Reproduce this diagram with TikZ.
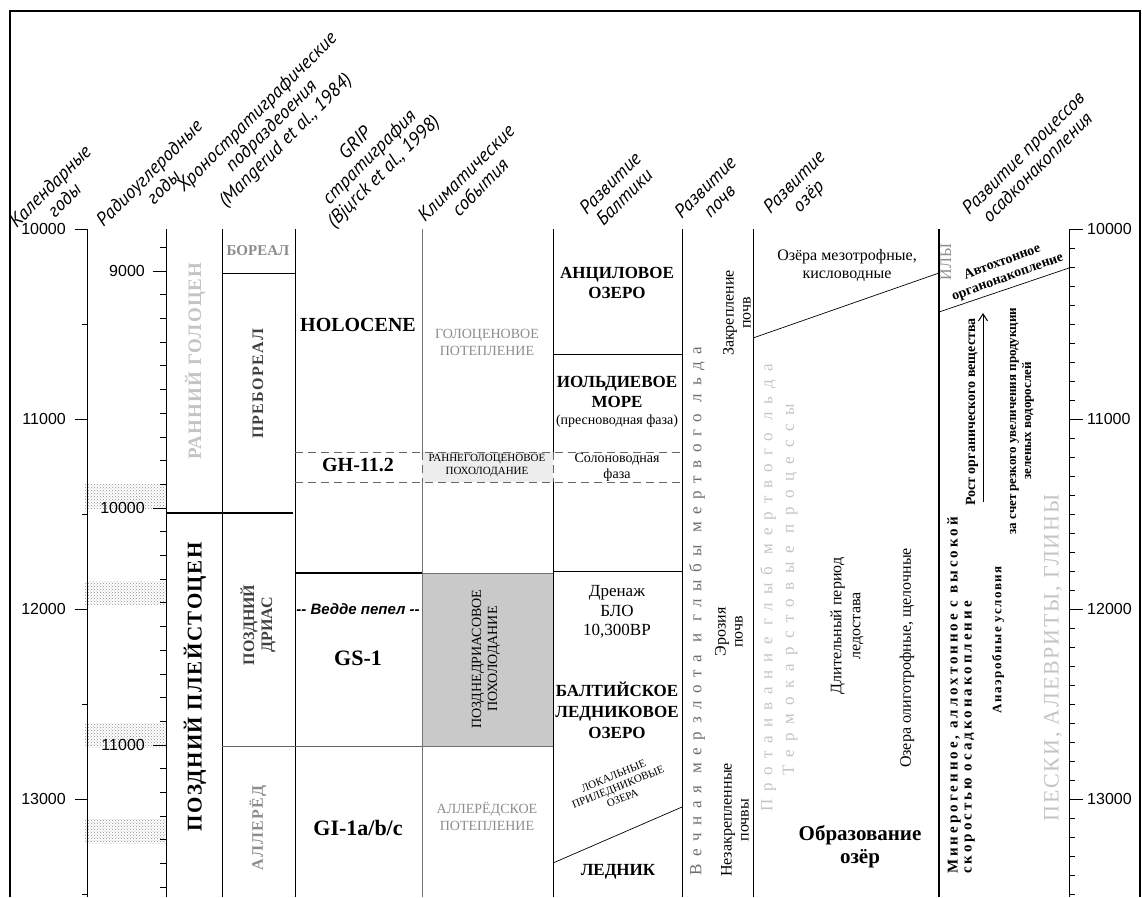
\documentclass[tikz,border=0pt]{standalone}
\usepackage{fontspec}
\setmainfont{Liberation Serif}
\newfontfamily\hdrfont{PT Sans}
\newfontfamily\numfont{Liberation Sans}
\usetikzlibrary{arrows.meta,patterns}
\definecolor{paletxt}{HTML}{C4C4C4}
\definecolor{midtxt}{HTML}{8C8C8C}
\definecolor{darktxt}{HTML}{404040}
\definecolor{permtxt}{HTML}{6E6E6E}
\definecolor{boxgray}{HTML}{C9C9C9}
\definecolor{boxlight}{HTML}{EDEDED}
\newcommand{\fsz}[2]{\fontsize{#1}{#2}\selectfont}
\newcommand{\lsp}[1]{\addfontfeature{LetterSpace=#1}}

\begin{document}
\begin{tikzpicture}[x=1pt, y=-1pt,
    every node/.style={inner sep=1pt},
    hdr/.style={font=\hdrfont\itshape\fsz{19}{20}, rotate=45, align=center},
    axnum/.style={font=\numfont\fsz{16}{18}},
    colline/.style={line width=0.7pt},
    thickline/.style={line width=2.4pt},
    dashline/.style={black!60, line width=0.8pt, dash pattern=on 8pt off 5pt},
    rcband/.style={pattern=crosshatch dots, pattern color=black!45},
    upr/.style={rotate=90, align=center},
    chrono/.style={upr, font=\fsz{16}{18}\bfseries},
    grip/.style={font=\fsz{20}{22}\bfseries},
    clim/.style={font=\fsz{14}{17}, text=midtxt, align=center},
    balt/.style={font=\fsz{17}{20}\bfseries, align=center},
    baltnote/.style={font=\fsz{14}{16}, align=center},
    body/.style={font=\fsz{16}{18}, align=center},
    sed/.style={upr, font=\fsz{14}{16}\bfseries}]

  \useasboundingbox (0,0) rectangle (1142,897);

  % frame
  \draw[line width=2.2pt] (10,897) -- (10,11) -- (1140,11) -- (1140,897);

  % column headers
  \node[hdr] (hcal)  at (57,193)  {Календарные\\годы};
  \node[hdr] (hrad)  at (156,180) {Радиоуглеродные\\годы};
  \node[hdr] (hchr)  at (272,127) {Хроностратиграфические\\подраздеоения\\(Mangerud et al., 1984)};
  \node[hdr] (hgrip) at (370,158) {GRIP\\стратиграфия\\(Bjцrck et al., 1998)};
  \node[hdr] (hclim) at (473,180) {Климатические\\события};
  \node[hdr] (hbalt) at (617,190) {Развитие\\Балтики};
  \node[hdr] (hsoil) at (712,194) {Развитие\\почв};
  \node[hdr] (hlake) at (802,190) {Развитие\\озёр};
  \node[hdr] (hsed)  at (1030,160) {Развитие процессов\\осадконакопления};

  % radiocarbon calibration bands
  \foreach \ya/\yb in {484/508, 581/604, 723/747, 819/843}
    \fill[rcband] (85,\ya) rectangle (166,\yb);

  % calendar axis (left)
  \draw[colline] (75,229) -- (87,229) -- (87,897);
  \foreach \yy in {419,609,799} \draw[colline] (75,\yy) -- (87,\yy);
  \foreach \yy in {324,514,704,894} \draw[colline] (82,\yy) -- (87,\yy);
  \node[axnum, anchor=east] (cal10) at (67,229) {10000};
  \node[axnum, anchor=east] (cal11) at (67,419) {11000};
  \node[axnum, anchor=east] (cal12) at (67,609) {12000};
  \node[axnum, anchor=east] (cal13) at (67,799) {13000};

  % radiocarbon axis
  \draw[colline] (166,229) -- (166,897);
  \foreach \k in {-1,...,26} {
    \pgfmathsetmacro\yy{271+23.7*\k}
    \draw[colline] (160,\yy) -- (166,\yy);
  }
  \foreach \yy in {271,508,745} \draw[colline] (153,\yy) -- (166,\yy);
  \node[axnum, anchor=east] (rc9)  at (146,271) {9000};
  \node[axnum, anchor=east] (rc10) at (146,508) {10000};
  \node[axnum, anchor=east] (rc11) at (146,745) {11000};

  % calendar axis (right)
  \draw[colline] (1083,229) -- (1069,229) -- (1069,897);
  \foreach \k in {1,...,35} {
    \pgfmathsetmacro\yy{229+19*\k}
    \draw[colline] (1069,\yy) -- (1075,\yy);
  }
  \foreach \yy in {419,609,799} \draw[colline] (1069,\yy) -- (1083,\yy);
  \node[axnum, anchor=west] (rcal10) at (1086,229) {10000};
  \node[axnum, anchor=west] (rcal11) at (1086,419) {11000};
  \node[axnum, anchor=west] (rcal12) at (1086,609) {12000};
  \node[axnum, anchor=west] (rcal13) at (1086,799) {13000};

  % climate boxes
  \fill[boxlight] (422,452) rectangle (553,482);
  \filldraw[fill=boxgray, draw=black!55, colline] (422,573) rectangle (553,746);

  % column lines
  \foreach \xx in {222,295,682,753} \draw[colline] (\xx,229) -- (\xx,897);
  \draw[colline, black!55] (422,229) -- (422,452) (422,482) -- (422,897);
  \draw[colline] (553,229) -- (553,452) (553,482) -- (553,897);
  \draw[dashline] (422,452) -- (422,482) (553,452) -- (553,482);
  \draw[line width=1.1pt] (939,229) -- (939,897);

  % boundaries
  \draw[colline] (222,273) -- (295,273);
  \draw[thickline] (166,513) -- (293,513);
  \draw[thickline] (295,573) -- (422,573);
  \draw[colline, black!60] (222,746) -- (422,746);
  \draw[dashline] (295,452) -- (682,452);
  \draw[dashline] (295,482) -- (682,482);
  \draw[colline] (553,354) -- (682,354);
  \draw[colline] (553,571) -- (682,571);
  \draw[colline] (553,863) -- (682,807);
  \draw[colline] (753,338) -- (939,273);
  \draw[colline] (939,312) -- (1069,268);

  % chronostratigraphy
  \node[upr, font=\fsz{19}{21}\bfseries\lsp{6}, text=paletxt] (early) at (195,361) {РАННИЙ ГОЛОЦЕН};
  \node[upr, font=\fsz{21}{23}\bfseries\lsp{7}] (late) at (195,687) {ПОЗДНИЙ ПЛЕЙСТОЦЕН};
  \node[font=\fsz{15}{17}\bfseries, text=midtxt] (boreal) at (258,251) {БОРЕАЛ};
  \node[chrono, text=darktxt, font=\fsz{16}{18}\bfseries\lsp{8}] (preb) at (258,384) {ПРЕБОРЕАЛ};
  \node[chrono, text=darktxt] (ydr) at (258,625) {ПОЗДНИЙ\\ДРИАС};
  \node[chrono, text=midtxt, font=\fsz{16}{18}\bfseries\lsp{8}] (aller) at (258,828) {АЛЛЕРЁД};

  % GRIP
  \node[grip] (holo) at (358,325) {HOLOCENE};
  \node[grip] (gh) at (358,465) {GH-11.2};
  \node[font=\numfont\fsz{15}{17}\bfseries\itshape] (vedde) at (358,609) {-- Ведде пепел --};
  \node[grip, font=\fsz{22}{24}\bfseries] (gs) at (358,658) {GS-1};
  \node[grip, font=\fsz{22}{24}\bfseries] (gi) at (358,828) {GI-1a/b/c};

  % climate events
  \node[clim] (hwarm) at (487,342) {ГОЛОЦЕНОВОЕ\\ПОТЕПЛЕНИЕ};
  \node[font=\fsz{11}{13}, align=center] (ecool) at (487,466) {РАННЕГОЛОЦЕНОВОЕ\\ПОХОЛОДАНИЕ};
  \node[upr, font=\fsz{14}{16}] (ydcool) at (486,659) {ПОЗДНЕДРИАСОВОЕ\\ПОХОЛОДАНИЕ};
  \node[clim] (awarm) at (487,816) {АЛЛЕРЁДСКОЕ\\ПОТЕПЛЕНИЕ};

  % Baltic
  \node[balt] (ancyl) at (617,283) {АНЦИЛОВОЕ\\ОЗЕРО};
  \node[balt] (yoldia) at (617,392) {ИОЛЬДИЕВОЕ\\МОРЕ};
  \node[baltnote] (fresh) at (617,421) {(пресноводная фаза)};
  \node[baltnote] (salt) at (617,467) {Солоноводная\\фаза};
  \node[body, font=\fsz{17}{19.5}] (drain) at (617,612) {Дренаж\\БЛО\\10,300BP};
  \node[balt, font=\fsz{17}{21}\bfseries] (bil) at (617,710) {БАЛТИЙСКОЕ\\ЛЕДНИКОВОЕ\\ОЗЕРО};
  \node[font=\fsz{11}{12}, align=center, rotate=22] (local) at (618,787) {ЛОКАЛЬНЫЕ\\ПРИЛЕДНИКОВЫЕ\\ОЗЕРА};
  \node[balt] (glacier) at (618,872) {ЛЕДНИК};

  % soils
  \node[upr, font=\fsz{17}{19}\lsp{45}, text=permtxt] (perma) at (697,611) {Вечная  мерзлота  и  глыбы  мертвого  льда};
  \node[upr, font=\fsz{16}{17}] (fix) at (737,313) {Закрепление\\почв};
  \node[upr, font=\fsz{16}{17}] (eros) at (729,632) {Эрозия\\почв};
  \node[upr, font=\fsz{16}{17}] (loose) at (735,820) {Незакрепленные\\почвы};

  % lakes
  \node[body] (meso) at (847,265) {Озёра мезотрофные,\\кисловодные};
  \node[upr, font=\fsz{17}{19}\lsp{47}, text=paletxt] (thaw) at (768,588) {Протаивание  глыб  мертвого  льда};
  \node[upr, font=\fsz{17}{19}\lsp{50}, text=paletxt] (karst) at (790,590) {Термокарстовые  процессы};
  \node[upr, font=\fsz{16}{19}] (ice) at (847,626) {Длительный период\\ледостава};
  \node[upr, font=\fsz{16}{18}] (oligo) at (907,658) {Озера олиготрофные, щелочные};
  \node[font=\fsz{21}{23}\bfseries, align=center] (form) at (860,847) {Образование\\озёр};

  % sedimentation
  \node[upr, font=\fsz{16}{18}, text=midtxt] (silt) at (946,262) {ИЛЫ};
  \node[font=\fsz{14}{16}\bfseries, align=center, rotate=20] (auto) at (1005,270) {Автохтонное\\органонакопление};
  \node[sed] (growth) at (972,412) {Рост органического вещества};
  \node[sed, font=\fsz{13}{15}\bfseries] (algae) at (1022,421) {за счет резкого увеличения продукции\\зеленых водорослей};
  \node[sed, align=left, anchor=west, font=\fsz{15}{14}\bfseries\lsp{20}] (miner) at (961,875) {Минерогенное, аллохтонное с высокой\\скоростью осадконакопление};
  \node[sed, font=\fsz{13}{15}\bfseries\lsp{12}] (anaer) at (998,640) {Анаэробные условия};
  \node[upr, font=\fsz{22}{24}\lsp{8}, text=paletxt] (sand) at (1053,658) {ПЕСКИ, АЛЕВРИТЫ, ГЛИНЫ};
  \coordinate (arrlow) at (983,502);
  \coordinate (arrtop) at (983,313);
  \draw[-{Straight Barb[length=7pt,width=9pt]}, line width=1pt] (arrlow) -- (arrtop);
\end{tikzpicture}
\end{document}
